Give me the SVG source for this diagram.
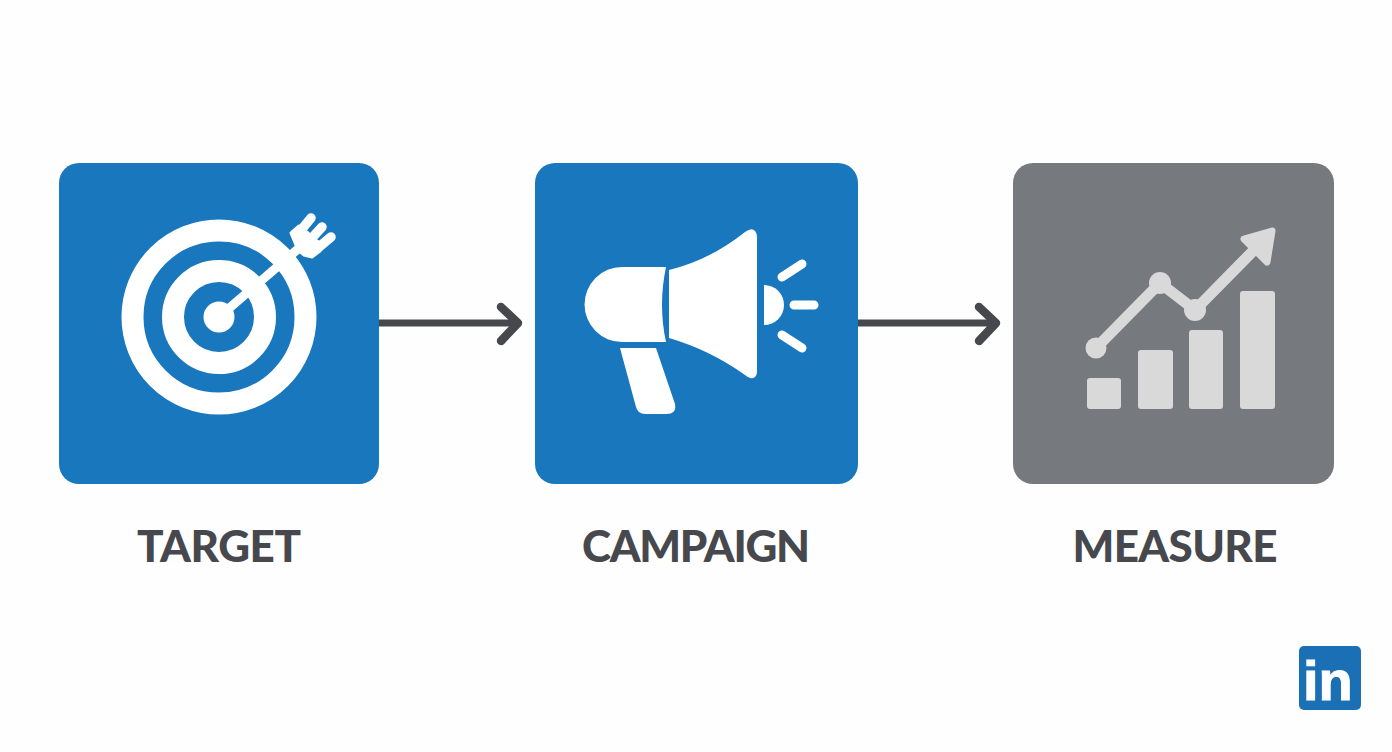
<svg xmlns="http://www.w3.org/2000/svg" width="1392" height="752" viewBox="0 0 1392 752">
<style>
.blue{fill:#1877bd}
.gray{fill:#76797e}
.w{fill:#fff}
.ws{stroke:#fff;fill:none;stroke-linecap:round}
.lg{fill:#d9d9d9}
.lgs{stroke:#d9d9d9;fill:none}
.label{font-family:"Lato","Open Sans","Liberation Sans",sans-serif;font-weight:900;font-size:44px;fill:#47484d;text-anchor:middle}
.line{stroke:#47484d;stroke-width:7;fill:none}
.head{stroke:#47484d;stroke-width:8.500;fill:none;stroke-linecap:round;stroke-linejoin:round}
</style>
<rect width="1392" height="752" fill="#fefefe"/>
<g id="connectors">
<path class="line" d="M379 323H516"/>
<path class="head" d="M501 307L518 323L501 341"/>
<path class="line" d="M858 323H994"/>
<path class="head" d="M979 307L996 323L979 341"/>
</g>
<g id="target">
<rect class="blue" x="59" y="163" width="320" height="321" rx="20"/>
<circle cx="219" cy="317" r="86.500" fill="none" stroke="#fff" stroke-width="22"/>
<circle cx="219" cy="317" r="46" fill="none" stroke="#fff" stroke-width="22"/>
<circle class="w" cx="219" cy="317" r="15.500"/>
<path class="ws" stroke-width="9" d="M219 317L298 249"/>
<path class="w" stroke="#fff" stroke-linejoin="round" stroke-width="3" d="M291 233L299 226L308 233L317 241L323 246L320 251L312 257L304 255L298 250Z"/>
<path class="ws" stroke-width="9.500" d="M302 229L311 218M311 239L322 227M319 247L331 237"/>
<text class="label" x="219" y="562" textLength="164" lengthAdjust="spacing">TARGET</text>
</g>
<g id="campaign">
<rect class="blue" x="535" y="163" width="323" height="321" rx="20"/>
<path class="w" d="M666 267Q658 305 666 342H622A37.500 37.500 0 0 1 622 267Z"/>
<path class="w" d="M669 270Q710 260 745 232Q752 227 755 231Q757 233 757 238V371Q757 377 753 378Q749 379 745 375Q710 350 669 338Z"/>
<path class="w" d="M764 285A20 20 0 0 1 764 325Z"/>
<path class="ws" stroke-width="9" d="M782 277L802 264M794 305H814M782 335L802 348"/>
<path class="w" d="M620 348H656L675 404Q677 414 666 414H645Q638 414 636 407Z"/>
<text class="label" x="696" y="562" textLength="228" lengthAdjust="spacing">CAMPAIGN</text>
</g>
<g id="measure">
<rect class="gray" x="1013" y="163" width="321" height="321" rx="20"/>
<rect class="lg" x="1087" y="378" width="34" height="31" rx="3"/>
<rect class="lg" x="1138" y="350" width="35" height="59" rx="3"/>
<rect class="lg" x="1189" y="330" width="34" height="79" rx="3"/>
<rect class="lg" x="1240" y="291" width="35" height="118" rx="3"/>
<path class="lgs" stroke-width="11" d="M1096 348L1160 283L1195 310L1258 246"/>
<circle class="lg" cx="1096" cy="348" r="10.500"/>
<circle class="lg" cx="1160" cy="283" r="11"/>
<circle class="lg" cx="1195" cy="310" r="11"/>
<path class="lg" stroke="#d9d9d9" stroke-width="7" stroke-linejoin="round" d="M1272 231L1244 239L1267 262Z"/>
<text class="label" x="1175" y="562" textLength="205" lengthAdjust="spacing">MEASURE</text>
</g>
<g id="linkedin">
<rect x="1299" y="646" width="62" height="64" rx="5" fill="#1a6fb5"/>
<text x="1303" y="700" font-family="Liberation Sans, sans-serif" font-weight="700" font-size="56" fill="#fff" stroke="#fff" stroke-width="1">in</text>
</g>
</svg>
